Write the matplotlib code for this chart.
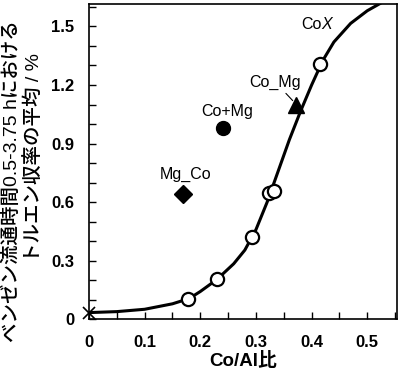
import numpy as np
import matplotlib
matplotlib.use("Agg")
import matplotlib.pyplot as plt
from matplotlib.ticker import MultipleLocator

plt.rcParams['font.family'] = ['Liberation Sans', 'Noto Sans CJK JP', 'DejaVu Sans']

# CoX series (open circles)
cox_x = [0.1775, 0.23, 0.293, 0.3225, 0.3315, 0.4155]
cox_y = [0.105, 0.207, 0.42, 0.649, 0.657, 1.305]

# reference point at Co/Al = 0
ref_x = [0.0]
ref_y = [0.035]

# other catalysts
comg_x, comg_y = [0.372], [1.10]       # Co_Mg
cpm_x, cpm_y = [0.24], [0.98]          # Co+Mg
mgco_x, mgco_y = [0.168], [0.64]       # Mg_Co

# fitted curve
fit_x = [0.0, 0.05, 0.10, 0.15, 0.18, 0.20, 0.23, 0.26, 0.28, 0.30, 0.32, 0.34,
         0.36, 0.38, 0.40, 0.42, 0.44, 0.47, 0.50, 0.523]
fit_y = [0.035, 0.040, 0.052, 0.080, 0.107, 0.143, 0.205, 0.285, 0.355, 0.46, 0.60, 0.76,
         0.92, 1.065, 1.20, 1.325, 1.42, 1.515, 1.58, 1.617]

fig = plt.figure(figsize=(4, 3.71), dpi=100)
ax = fig.add_axes([0.2225, 0.139, 0.7695, 0.85])

ax.plot(fit_x, fit_y, color='black', lw=2.2, zorder=2)
ax.plot(cox_x, cox_y, 'o', ms=9.5, mfc='white', mec='black', mew=1.6, zorder=3)
ax.plot(ref_x, ref_y, 'x', ms=9, color='black', mew=1.2, zorder=3, clip_on=False)
ax.plot(comg_x, comg_y, '^', ms=11, color='black', zorder=3)
ax.plot(cpm_x, cpm_y, 'o', ms=10, color='black', zorder=3)
ax.plot(mgco_x, mgco_y, 'D', ms=9, color='black', zorder=3)

fs = 11.5
ax.text(0.418, 1.511, 'Co', ha='right', va='center', fontsize=fs)
ax.text(0.418, 1.511, 'X', ha='left', va='center', fontsize=fs, style='italic')
ax.annotate('Co_Mg', xy=(0.366, 1.12), xytext=(0.3345, 1.215), ha='center', va='center',
            fontsize=fs, arrowprops=dict(arrowstyle='-', lw=0.8, color='black',
                                         shrinkA=1, shrinkB=0))
ax.text(0.248, 1.066, 'Co+Mg', ha='center', va='center', fontsize=fs)
ax.text(0.173, 0.744, 'Mg_Co', ha='center', va='center', fontsize=fs)

ax.set_xlim(0, 0.553)
ax.set_ylim(0, 1.614)
ax.xaxis.set_minor_locator(MultipleLocator(0.05))
ax.yaxis.set_minor_locator(MultipleLocator(0.1))
ax.set_xticks([0, 0.1, 0.2, 0.3, 0.4, 0.5])
ax.set_xticklabels(['0', '0.1', '0.2', '0.3', '0.4', '0.5'])
ax.set_yticks([0, 0.3, 0.6, 0.9, 1.2, 1.5])
ax.set_yticklabels(['0', '0.3', '0.6', '0.9', '1.2', '1.5'])
ax.tick_params(which='both', direction='in', top=False, right=False)
ax.tick_params(which='major', length=5, width=1, labelsize=12)
ax.tick_params(which='minor', length=5, width=1)
ax.tick_params(axis='x', which='major', pad=11)
ax.tick_params(axis='y', which='major', pad=10.5)
for lab in ax.get_xticklabels() + ax.get_yticklabels():
    lab.set_fontweight('bold')
for sp in ax.spines.values():
    sp.set_linewidth(1.2)

# axis titles placed in figure pixels
W, H = 400, 371
fig.text(243 / W, 1 - 361 / H, 'Co/Al比', ha='center', va='center',
         fontsize=13.5, fontweight='bold')
fig.text(12 / W, 1 - 181 / H, 'ベンゼン流通時間0.5-3.75 hにおける', rotation=90,
         ha='center', va='center', fontsize=14, fontweight='medium')
fig.text(34 / W, 1 - 158 / H, 'トルエン収率の平均 / %', rotation=90,
         ha='center', va='center', fontsize=14, fontweight='medium')

fig.savefig('out.png', dpi=100)
